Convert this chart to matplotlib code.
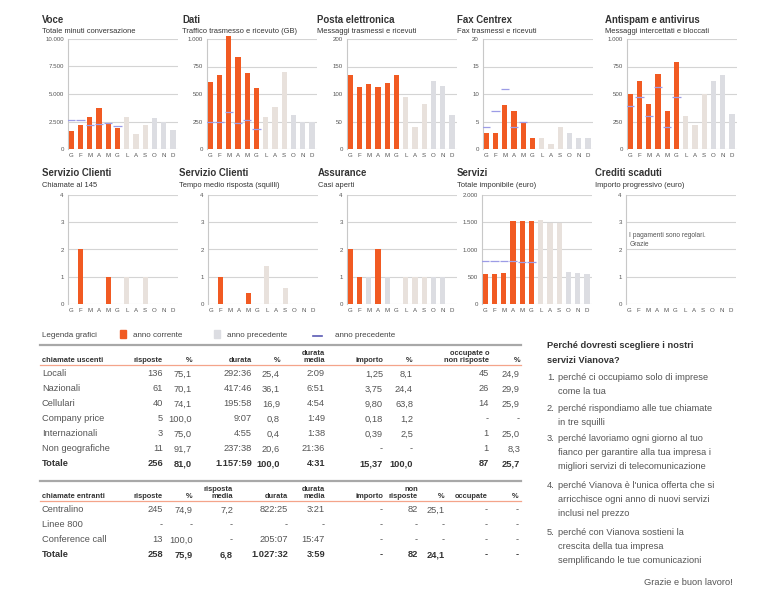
import numpy as np
import matplotlib
matplotlib.use("Agg")
from matplotlib import pyplot as plt

plt.rcParams['font.family'] = ['Liberation Sans', 'DejaVu Sans']

W, H = 768, 591
ORANGE = '#f15a22'
BEIGE = '#e8e1dc'
GREY = '#dcdde2'
DASH = '#9c9ce6'
TXT = '#444444'

months = ["G", "F", "M", "A", "M", "G", "L", "A", "S", "O", "N", "D"]

# ---- chart data (current year: first 6 months, previous year: 12 months) ----
voce_cur = [1650, 2150, 2900, 3700, 2250, 1950]
voce_prev = [0, 0, 0, 0, 0, 0, 2950, 1350, 2150, 2850, 2450, 1700]
voce_dash = [2600, 2600, 2150, 2250, 2400, 2100]

dati_cur = [605, 675, 1030, 835, 690, 555]
dati_prev = [0, 0, 0, 0, 0, 0, 290, 385, 700, 310, 250, 250]
dati_dash = [250, 250, 340, 235, 265, 180]

posta_cur = [134, 112, 118, 113, 120, 134]
posta_prev = [0, 0, 0, 0, 0, 0, 95, 40, 81, 124, 115, 62]
posta_dash = [None] * 6

fax_cur = [3, 3, 8, 7, 5, 2]
fax_prev = [0, 0, 0, 0, 0, 0, 2, 1, 4, 3, 2, 2]
fax_dash = [4, 7, 11, 4, 5, None]

anti_cur = [500, 615, 405, 685, 342, 795]
anti_prev = [0, 0, 0, 0, 0, 0, 297, 221, 500, 620, 676, 321]
anti_dash = [388, 473, 297, 560, 200, 473]

sc1_cur = [0, 2, 0, 0, 1, 0]
sc1_prev = [0, 0, 0, 0, 0, 0, 1, 0, 1, 0, 0, 0]

sc2_cur = [0, 1, 0, 0, 0.4, 0]
sc2_prev = [0, 0, 0, 0, 0, 0, 1.4, 0, 0.6, 0, 0, 0]

ass_cur = [2, 1, 0, 2, 0, 0]
ass_prev = [0, 0, 1, 0, 1, 0, 1, 1, 1, 1, 1, 0]

serv_cur = [545, 545, 563, 1515, 1515, 1515]
serv_prev = [0, 0, 0, 0, 0, 0, 1550, 1490, 1490, 594, 576, 552]
serv_dash = [790, 790, 790, 780, 770, 770]

cred_cur = [0, 0, 0, 0, 0, 0]
cred_prev = [0] * 12

charts = [
    ("Voce", "Totale minuti conversazione", voce_cur, voce_prev, voce_dash, 10000),
    ("Dati", "Traffico trasmesso e ricevuto (GB)", dati_cur, dati_prev, dati_dash, 1000),
    ("Posta elettronica", "Messaggi trasmessi e ricevuti", posta_cur, posta_prev, posta_dash, 200),
    ("Fax Centrex", "Fax trasmessi e ricevuti", fax_cur, fax_prev, fax_dash, 20),
    ("Antispam e antivirus", "Messaggi intercettati e bloccati", anti_cur, anti_prev, anti_dash, 1000),
    ("Servizio Clienti", "Chiamate al 145", sc1_cur, sc1_prev, [None] * 6, 4),
    ("Servizio Clienti", "Tempo medio risposta (squilli)", sc2_cur, sc2_prev, [None] * 6, 4),
    ("Assurance", "Casi aperti", ass_cur, ass_prev, [None] * 6, 4),
    ("Servizi", "Totale imponibile (euro)", serv_cur, serv_prev, serv_dash, 2000),
    ("Crediti scaduti", "Importo progressivo (euro)", cred_cur, cred_prev, [None] * 6, 4),
]

# pixel layout
row_axes_y = [(39, 149), (195, 304)]
row_title_y = [(20, 30), (173, 184)]
axes_x = [[68, 207, 347, 483, 627], [68, 208, 347, 482, 626]]
title_x = [[42, 182, 317, 457, 605], [42, 179, 318, 457, 595]]
AX_W = 110


def fx(x):
    return x / W


def fy(y):
    return 1 - y / H


def it_num(v):
    return f"{int(v):,}".replace(",", ".")


def line_text(x, y, s, size, **kw):
    # y is the visual middle of the line; place on the baseline so rows stay level
    fig.text(fx(x), fy(y + size * 0.5), s, fontsize=size, va='baseline', **kw)


fig = plt.figure(figsize=(W / 100, H / 100), dpi=100)

for k, (title, sub, cur, prev, dash, ymax) in enumerate(charts):
    r, c = divmod(k, 5)
    y0, y1 = row_axes_y[r]
    x0 = axes_x[r][c]
    ax = fig.add_axes([fx(x0), fy(y1), AX_W / W, (y1 - y0) / H])
    x = np.arange(12)
    pcols = [BEIGE if 6 <= i <= 8 else GREY for i in range(12)]
    ax.bar(x, prev, width=0.58, color=pcols, clip_on=False, zorder=2)
    ax.bar(x[:6], cur, width=0.58, color=ORANGE, clip_on=False, zorder=3)
    for i, d in enumerate(dash):
        if d is not None:
            ax.hlines(d, i - 0.45, i + 0.45, color=DASH, lw=0.9, zorder=4)
    ax.set_xlim(-0.35, 11.55)
    ax.set_ylim(0, ymax)
    ticks = np.linspace(0, ymax, 5)
    ax.set_yticks(ticks)
    ax.set_yticklabels([it_num(t) for t in ticks])
    ax.set_xticks(x)
    ax.set_xticklabels(months)
    ax.tick_params(length=0, labelsize=4.4, colors='#555555', pad=3)
    ax.grid(axis='y', color='#d4d4d4', lw=0.8, zorder=0)
    for s in ['top', 'right', 'bottom']:
        ax.spines[s].set_visible(False)
    ax.spines['left'].set_color('#c8c8c8')
    ax.spines['left'].set_linewidth(0.8)
    ax.set_axisbelow(True)
    ty, sy = row_title_y[r]
    line_text(title_x[r][c], ty, title, 6.9, fontweight='bold', color='#333333')
    line_text(title_x[r][c], sy, sub, 5.4, color='#333333')
    if title == "Crediti scaduti":
        ax.text(0.0, 2.35, "I pagamenti sono regolari.\nGrazie", fontsize=4.8,
                color='#555555', va='center', linespacing=1.5)

# ---- legend ----
ly = 334
line_text(42, ly, "Legenda grafici", 5.8, color=TXT)
fig.patches.append(plt.Rectangle((fx(120), fy(338)), 6 / W, 8 / H, color=ORANGE,
                                 transform=fig.transFigure, figure=fig))
line_text(133, ly, "anno corrente", 5.8, color=TXT)
fig.patches.append(plt.Rectangle((fx(214), fy(338)), 6 / W, 8 / H, color=GREY,
                                 transform=fig.transFigure, figure=fig))
line_text(227, ly, "anno precedente", 5.8, color=TXT)
fig.lines.append(plt.Line2D([fx(313), fx(322)], [fy(336), fy(336)], color='#5a5ab4',
                            lw=1.2, transform=fig.transFigure))
line_text(335, ly, "anno precedente", 5.8, color=TXT)

# ---- table 1: chiamate uscenti ----
out_rows = ["Locali", "Nazionali", "Cellulari", "Company price", "Internazionali",
            "Non geografiche"]
out_risposte = ["136", "61", "40", "5", "3", "11"]
out_pct = ["75,1", "70,1", "74,1", "100,0", "75,0", "91,7"]
out_durata = ["292:36", "417:46", "195:58", "9:07", "4:55", "237:38"]
out_pct_dur = ["25,4", "36,1", "16,9", "0,8", "0,4", "20,6"]
out_media = ["2:09", "6:51", "4:54", "1:49", "1:38", "21:36"]
out_importo = ["1,25", "3,75", "9,80", "0,18", "0,39", "-"]
out_pct_imp = ["8,1", "24,4", "63,8", "1,2", "2,5", "-"]
out_occ = ["45", "26", "14", "-", "1", "1"]
out_pct_occ = ["24,9", "29,9", "25,9", "-", "25,0", "8,3"]
out_tot = ["256", "81,0", "1.157:59", "100,0", "4:31", "15,37", "100,0", "87", "25,7"]
out_heads = ["risposte", "%", "durata", "%", "durata\nmedia", "importo", "%",
             "occupate o\nnon risposte", "%"]
out_cols = [163, 192, 252, 280, 325, 383, 413, 489, 520]

# ---- table 2: chiamate entranti ----
in_rows = ["Centralino", "Linee 800", "Conference call"]
in_risposte = ["245", "-", "13"]
in_pct = ["74,9", "-", "100,0"]
in_risp_media = ["7,2", "-", "-"]
in_durata = ["822:25", "-", "205:07"]
in_media = ["3:21", "-", "15:47"]
in_importo = ["-", "-", "-"]
in_non_risp = ["82", "-", "-"]
in_pct_non = ["25,1", "-", "-"]
in_occ = ["-", "-", "-"]
in_pct_occ = ["-", "-", "-"]
in_tot = ["258", "75,9", "6,8", "1.027:32", "3:59", "-", "82", "24,1", "-", "-"]
in_heads = ["risposte", "%", "risposta\nmedia", "durata", "durata\nmedia", "importo",
            "non\nrisposte", "%", "occupate", "%"]
in_cols = [163, 193, 233, 288, 325, 383, 418, 445, 488, 519]


def draw_table(top, head_y, first_y, name, heads, cols, rows, columns, totals):
    fig.lines.append(plt.Line2D([fx(40), fx(521)], [fy(top), fy(top)], color='#a8a8a8',
                                lw=1.6, transform=fig.transFigure))
    fig.lines.append(plt.Line2D([fx(40), fx(521)], [fy(head_y + 3), fy(head_y + 3)],
                                color='#f4a48a', lw=0.9, transform=fig.transFigure))
    fig.text(fx(42), fy(head_y), name, fontsize=5.4, fontweight='bold', color='#333333',
             va='baseline')
    for h, cx in zip(heads, cols):
        fig.text(fx(cx), fy(head_y), h, fontsize=5.4, fontweight='bold', color='#333333',
                 ha='right', va='baseline', multialignment='right', linespacing=0.95)
    for i, lab in enumerate(rows + ["Totale"]):
        y = first_y + 15 * i
        bold = lab == "Totale"
        fw = 'bold' if bold else 'normal'
        col = '#333333' if bold else '#555555'
        line_text(42, y, lab, 6.7, color=col, fontweight=fw)
        vals = totals if bold else [c[i] for c in columns]
        for v, cx in zip(vals, cols):
            line_text(cx, y, v, 6.7, color=col, fontweight=fw, ha='right')


draw_table(345, 362, 373, "chiamate uscenti", out_heads, out_cols, out_rows,
           [out_risposte, out_pct, out_durata, out_pct_dur, out_media, out_importo,
            out_pct_imp, out_occ, out_pct_occ], out_tot)
draw_table(481, 498, 509, "chiamate entranti", in_heads, in_cols, in_rows,
           [in_risposte, in_pct, in_risp_media, in_durata, in_media, in_importo,
            in_non_risp, in_pct_non, in_occ, in_pct_occ], in_tot)

# ---- right text block ----
line_text(547, 345, "Perché dovresti scegliere i nostri", 6.7, fontweight='bold',
          color='#333333')
line_text(547, 360, "servizi Vianova?", 6.7, fontweight='bold', color='#333333')
reasons = [
    ["perché ci occupiamo solo di imprese", "come la tua"],
    ["perché rispondiamo alle tue chiamate", "in tre squilli"],
    ["perché lavoriamo ogni giorno al tuo",
     "fianco per garantire alla tua impresa i",
     "migliori servizi di telecomunicazione"],
    ["perché Vianova è l'unica offerta che si",
     "arricchisce ogni anno di nuovi servizi", "inclusi nel prezzo"],
    ["perché con Vianova sostieni la", "crescita della tua impresa",
     "semplificando le tue comunicazioni"],
]
reason_y = [377, 408, 438, 485, 532]
for n, (lines, y) in enumerate(zip(reasons, reason_y)):
    line_text(547, y, f"{n + 1}.", 6.7, color='#555555')
    for j, ln in enumerate(lines):
        line_text(558, y + 14 * j, ln, 6.7, color='#555555')
line_text(733, 582, "Grazie e buon lavoro!", 6.7, color='#555555', ha='right')

fig.savefig("out.png", dpi=100)
